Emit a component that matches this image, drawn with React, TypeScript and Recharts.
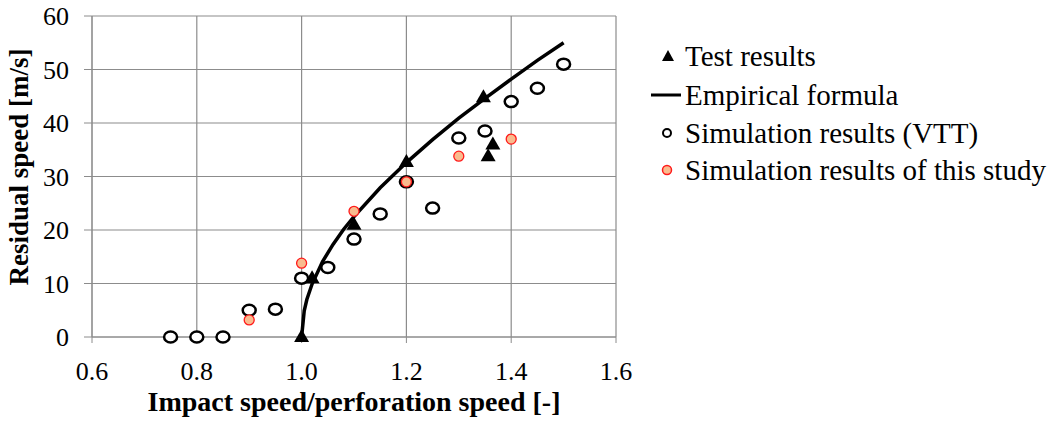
import { ComposedChart, Scatter, XAxis, YAxis, CartesianGrid } from 'recharts'

const xTicks = [0.6, 0.8, 1.0, 1.2, 1.4, 1.6]
const yTicks = [0, 10, 20, 30, 40, 50, 60]

const testX = [1.0, 1.02, 1.1, 1.2, 1.347, 1.365, 1.356]
const testY = [0, 11, 21, 32.7, 44.8, 36, 33.8]

const formulaX = [1.0, 1.005, 1.01, 1.02, 1.04, 1.06, 1.08, 1.1, 1.15, 1.2, 1.25, 1.3, 1.35, 1.4, 1.45, 1.5]
const formulaY = [0, 4.9, 7.0, 9.9, 14.1, 17.3, 20.1, 22.5, 27.9, 32.6, 36.9, 40.9, 44.6, 48.2, 51.7, 55]

const vttX = [0.75, 0.8, 0.85, 0.9, 0.95, 1.0, 1.05, 1.1, 1.15, 1.2, 1.25, 1.3, 1.35, 1.4, 1.45, 1.5]
const vttY = [0, 0, 0, 5, 5.2, 11, 13, 18.3, 23, 29, 24.1, 37.2, 38.5, 44, 46.5, 51]

const studyX = [0.9, 1.0, 1.1, 1.2, 1.3, 1.4]
const studyY = [3.2, 13.8, 23.5, 29, 33.8, 37]

const zip = (xs: number[], ys: number[]) => xs.map((x, i) => ({ x, y: ys[i] }))

const testData = zip(testX, testY)
const formulaData = zip(formulaX, formulaY)
const vttData = zip(vttX, vttY)
const studyData = zip(studyX, studyY)

const font = "'Liberation Serif', 'Times New Roman', serif"
const gridGray = '#8c8c8c'

function Triangle(p: any) {
  const { cx, cy } = p
  if (cx == null) return null
  return <path d={`M${cx},${cy - 8} L${cx + 7.5},${cy + 5} L${cx - 7.5},${cy + 5} Z`} fill="#000" />
}

function OpenCircle(p: any) {
  if (p.cx == null) return null
  return <ellipse cx={p.cx} cy={p.cy} rx={6.5} ry={5.5} fill="#fff" stroke="#000" strokeWidth={2.5} />
}

function RedCircle(p: any) {
  if (p.cx == null) return null
  return <circle cx={p.cx} cy={p.cy} r={5} fill="#f9bb8e" stroke="#ff1a1a" strokeWidth={1.3} />
}

const legendRows = [
  { label: 'Test results', kind: 'tri' },
  { label: 'Empirical formula', kind: 'line' },
  { label: 'Simulation results (VTT)', kind: 'open' },
  { label: 'Simulation results of this study', kind: 'red' },
]

// legend drawn as its own svg, to the right of the plot
function LegendBox() {
  const rowY = [56, 95, 133, 170]
  return (
    <svg width={420} height={200} style={{ position: 'absolute', left: 640, top: 0 }}>
      {legendRows.map((r, i) => {
        const cy = rowY[i]
        return (
          <g key={r.label}>
            {r.kind === 'tri' && <path d={`M28,${cy - 6} L34,${cy + 5} L22,${cy + 5} Z`} fill="#000" />}
            {r.kind === 'line' && <line x1={11} y1={cy} x2={41} y2={cy} stroke="#000" strokeWidth={3} />}
            {r.kind === 'open' && <circle cx={27} cy={cy} r={4} fill="#fff" stroke="#000" strokeWidth={2} />}
            {r.kind === 'red' && <circle cx={27} cy={cy} r={4.5} fill="#f9bb8e" stroke="#ff1a1a" strokeWidth={1.5} />}
            <text x={45} y={cy + 10} fontFamily={font} fontSize={29} fill="#000">{r.label}</text>
          </g>
        )
      })}
    </svg>
  )
}

export default function App() {
  const tick = { fontSize: 26, fill: '#000', fontFamily: font }
  const labelStyle = { fontWeight: 'bold', fill: '#000', fontFamily: font }
  return (
    <div style={{ position: 'absolute', left: 0, top: 0, width: 1060, height: 421, background: '#fff' }}>
      <ComposedChart width={1060} height={421} margin={{ top: 16, right: 444, bottom: 0, left: 0 }}>
        <CartesianGrid stroke={gridGray} strokeWidth={1.2} horizontal vertical />
        <XAxis
          type="number"
          dataKey="x"
          domain={[0.6, 1.6]}
          ticks={xTicks}
          tickFormatter={(v: number) => v.toFixed(1)}
          height={84}
          tick={tick}
          tickSize={6}
          tickMargin={19}
          stroke={gridGray}
          label={{
            content: () => (
              <text x={354} y={411} textAnchor="middle" fontSize={28} style={labelStyle}>
                Impact speed/perforation speed [-]
              </text>
            ),
          }}
        />
        <YAxis
          type="number"
          dataKey="y"
          domain={[0, 60]}
          ticks={yTicks}
          width={92}
          tick={tick}
          tickSize={8}
          tickMargin={15}
          stroke={gridGray}
          label={{
            content: () => (
              <text transform="translate(28,167) rotate(-90)" textAnchor="middle" fontSize={27} style={labelStyle}>
                Residual speed [m/s]
              </text>
            ),
          }}
        />
        <Scatter name="Empirical formula" data={formulaData} line={{ stroke: '#000', strokeWidth: 3.5 }} lineType="joint" shape={() => null} isAnimationActive={false} />
        <Scatter name="Simulation results (VTT)" data={vttData} shape={OpenCircle} isAnimationActive={false} />
        <Scatter name="Test results" data={testData} shape={Triangle} isAnimationActive={false} />
        <Scatter name="Simulation results of this study" data={studyData} shape={RedCircle} isAnimationActive={false} />
      </ComposedChart>
      <LegendBox />
    </div>
  )
}
